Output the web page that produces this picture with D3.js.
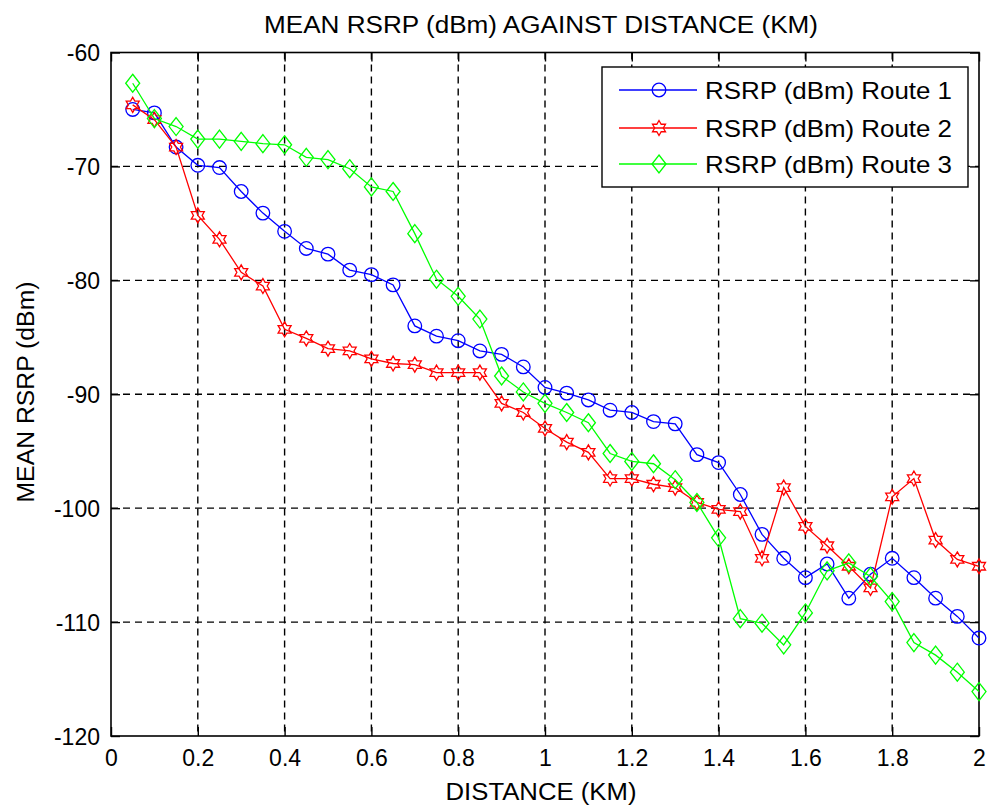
<!DOCTYPE html>
<html>
<head>
<meta charset="utf-8">
<script src="https://cdn.jsdelivr.net/npm/d3@7"></script>
<style>
  html, body { margin: 0; padding: 0; background: #ffffff; }
  svg { display: block; }
  text { font-family: "Liberation Sans", Arial, Helvetica, sans-serif; fill: #000; }
</style>
</head>
<body>
<svg id="chart" width="987" height="809"></svg>
<script>
// ---- data ----
const distance = [0.05,0.10,0.15,0.20,0.25,0.30,0.35,0.40,0.45,0.50,
                  0.55,0.60,0.65,0.70,0.75,0.80,0.85,0.90,0.95,1.00,
                  1.05,1.10,1.15,1.20,1.25,1.30,1.35,1.40,1.45,1.50,
                  1.55,1.60,1.65,1.70,1.75,1.80,1.85,1.90,1.95,2.00];
const route1 = [-65.0,-65.3,-68.3,-69.9,-70.1,-72.2,-74.1,-75.7,-77.2,-77.7,
                -79.1,-79.5,-80.4,-84.0,-84.9,-85.3,-86.2,-86.5,-87.6,-89.4,
                -89.9,-90.5,-91.4,-91.6,-92.4,-92.6,-95.3,-96.0,-98.8,-102.3,
                -104.4,-106.1,-104.9,-107.9,-105.8,-104.4,-106.1,-107.9,-109.5,-111.4];
const route2 = [-64.6,-65.9,-68.3,-74.3,-76.4,-79.3,-80.5,-84.3,-85.1,-86.0,
                -86.2,-86.9,-87.3,-87.4,-88.1,-88.1,-88.1,-90.8,-91.6,-93.0,
                -94.2,-95.1,-97.4,-97.4,-97.9,-98.2,-99.5,-100.1,-100.3,-104.4,
                -98.2,-101.6,-103.3,-105.1,-107.0,-99.0,-97.4,-102.8,-104.5,-105.1];
const route3 = [-62.7,-65.8,-66.5,-67.6,-67.6,-67.8,-68.0,-68.1,-69.2,-69.4,
                -70.2,-71.8,-72.2,-75.9,-79.9,-81.4,-83.4,-88.4,-89.8,-90.8,
                -91.6,-92.5,-95.2,-95.9,-96.1,-97.5,-99.5,-102.6,-109.7,-110.1,
                -112.0,-109.2,-105.5,-104.8,-106.0,-108.2,-111.8,-112.9,-114.4,-116.1];
const seriesNames = ["RSRP (dBm) Route 1","RSRP (dBm) Route 2","RSRP (dBm) Route 3"];
const seriesColors = ["#0000ff","#ff0000","#00ff00"];
const seriesMarkers = ["circle","hexagram","diamond"];
const xTicks = [0,0.2,0.4,0.6,0.8,1,1.2,1.4,1.6,1.8,2];
const yTicks = [-60,-70,-80,-90,-100,-110,-120];
const titleText = "MEAN RSRP (dBm) AGAINST DISTANCE (KM)";
const xLabelText = "DISTANCE (KM)";
const yLabelText = "MEAN RSRP (dBm)";

// ---- layout ----
const L = 111, R = 979, T = 52.5, B = 736;
const svg = d3.select("#chart");
const x = d3.scaleLinear().domain([0, 2]).range([L, R]);
const y = d3.scaleLinear().domain([-120, -60]).range([B, T]);

// grid
const grid = svg.append("g");
grid.selectAll("line.v").data(xTicks.slice(1, -1)).enter().append("line")
  .attr("x1", d => x(d)).attr("x2", d => x(d)).attr("y1", T).attr("y2", B)
  .attr("stroke", "#000").attr("stroke-width", 1.4).attr("stroke-dasharray", "7,5");
grid.selectAll("line.h").data(yTicks.slice(1, -1)).enter().append("line")
  .attr("y1", d => y(d)).attr("y2", d => y(d)).attr("x1", L).attr("x2", R)
  .attr("stroke", "#000").attr("stroke-width", 1.4).attr("stroke-dasharray", "7,5");

// axes (inward ticks on all sides)
const tickLen = 9;
const plainFmt = d => String(d);
svg.append("g").attr("transform", `translate(0,${B})`)
  .call(d3.axisBottom(x).tickValues(xTicks).tickSize(-tickLen).tickPadding(12).tickFormat(plainFmt))
  .call(g => { g.select(".domain").remove(); g.selectAll("line").attr("stroke-width", 1.4);
               g.selectAll("text").attr("font-size", 23).attr("dy", null).attr("y", 30)
                .style("font-family", '"Liberation Sans", Arial, sans-serif'); });
svg.append("g").attr("transform", `translate(0,${T})`)
  .call(d3.axisTop(x).tickValues(xTicks).tickSize(-tickLen).tickFormat(""))
  .call(g => { g.select(".domain").remove(); g.selectAll("line").attr("stroke-width", 1.4); });
svg.append("g").attr("transform", `translate(${L},0)`)
  .call(d3.axisLeft(y).tickValues(yTicks).tickSize(-tickLen).tickPadding(11).tickFormat(plainFmt))
  .call(g => { g.select(".domain").remove(); g.selectAll("line").attr("stroke-width", 1.4);
               g.selectAll("text").attr("font-size", 23).attr("dy", "0.36em")
                .style("font-family", '"Liberation Sans", Arial, sans-serif'); });
svg.append("g").attr("transform", `translate(${R},0)`)
  .call(d3.axisRight(y).tickValues(yTicks).tickSize(-tickLen).tickFormat(""))
  .call(g => { g.select(".domain").remove(); g.selectAll("line").attr("stroke-width", 1.4); });

// frame
svg.append("rect").attr("x", L).attr("y", T).attr("width", R - L).attr("height", B - T)
  .attr("fill", "none").attr("stroke", "#000").attr("stroke-width", 1.6);

// marker paths
function markerPath(type) {
  if (type === "circle") {
    const p = d3.path(); p.moveTo(6.8, 0); p.arc(0, 0, 6.8, 0, 2 * Math.PI); p.closePath();
    return p.toString();
  }
  if (type === "diamond") {
    return "M0,-9L7,0L0,9L-7,0Z";
  }
  // hexagram
  const ro = 7.5, ri = ro / Math.sqrt(3);
  const pts = [];
  for (let k = 0; k < 12; k++) {
    const a = -Math.PI / 2 + k * Math.PI / 6;
    const r = k % 2 === 0 ? ro : ri;
    pts.push([r * Math.cos(a), r * Math.sin(a)]);
  }
  return "M" + pts.map(p => p[0].toFixed(2) + "," + p[1].toFixed(2)).join("L") + "Z";
}

// series
const allSeries = [route1, route2, route3];
const line = d3.line().x(d => x(d[0])).y(d => y(d[1]));
allSeries.forEach((vals, i) => {
  const pts = distance.map((dv, j) => [dv, vals[j]]);
  const g = svg.append("g");
  g.append("path").attr("d", line(pts)).attr("fill", "none")
    .attr("stroke", seriesColors[i]).attr("stroke-width", 1.3);
  g.selectAll("path.m").data(pts).enter().append("path")
    .attr("class", "m")
    .attr("d", markerPath(seriesMarkers[i]))
    .attr("transform", d => `translate(${x(d[0])},${y(d[1])})`)
    .attr("fill", "none").attr("stroke", seriesColors[i]).attr("stroke-width", 1.3);
});

// legend
const leg = svg.append("g");
leg.append("rect").attr("x", 602).attr("y", 67).attr("width", 366).attr("height", 120)
  .attr("fill", "#fff").attr("stroke", "#000").attr("stroke-width", 1.4);
const rowY = [90, 128, 164];
seriesNames.forEach((name, i) => {
  leg.append("line").attr("x1", 619).attr("x2", 697).attr("y1", rowY[i]).attr("y2", rowY[i])
    .attr("stroke", seriesColors[i]).attr("stroke-width", 1.3);
  leg.append("path").attr("d", markerPath(seriesMarkers[i]))
    .attr("transform", `translate(659,${rowY[i]})`)
    .attr("fill", "none").attr("stroke", seriesColors[i]).attr("stroke-width", 1.3);
  leg.append("text").attr("x", 705).attr("y", rowY[i] + 8.5).attr("font-size", 24)
    .attr("textLength", 247).attr("lengthAdjust", "spacingAndGlyphs").text(name);
});

// title and axis labels
svg.append("text").attr("x", 541).attr("y", 33).attr("text-anchor", "middle")
  .attr("font-size", 23).attr("textLength", 554).attr("lengthAdjust", "spacingAndGlyphs")
  .text(titleText);
svg.append("text").attr("x", 541).attr("y", 800).attr("text-anchor", "middle")
  .attr("font-size", 23).attr("textLength", 191).attr("lengthAdjust", "spacingAndGlyphs")
  .text(xLabelText);
svg.append("text").attr("transform", "translate(34,392) rotate(-90)").attr("text-anchor", "middle")
  .attr("font-size", 23).attr("textLength", 221).attr("lengthAdjust", "spacingAndGlyphs")
  .text(yLabelText);
</script>
</body>
</html>
